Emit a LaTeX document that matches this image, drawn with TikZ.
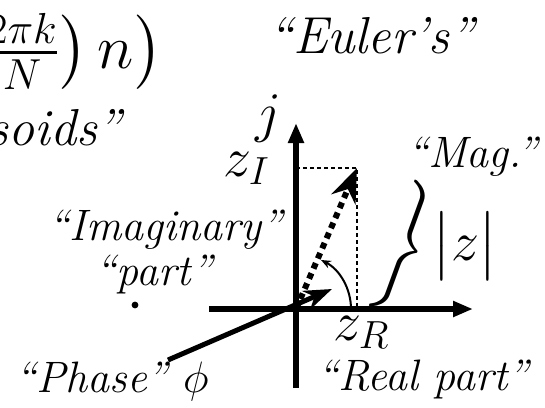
\RequirePackage{fix-cm}
\documentclass[tikz,border=0pt]{standalone}
\usepackage{amsmath,amssymb}
\usetikzlibrary{arrows.meta}

\begin{document}
\begin{tikzpicture}[x=0.5pt, y=-0.5pt, axis/.style={line width=3.3pt, -{Triangle[length=10pt, width=7.5pt]}}, vec/.style={line width=3pt, dash pattern=on 3pt off 2.5pt, -{Stealth[length=17pt, width=13pt]}}, phasearr/.style={line width=2.5pt, -{Stealth[length=14pt, width=10pt]}}, anglearr/.style={line width=1pt, -{Stealth[length=5pt, width=4pt]}}, dashline/.style={line width=0.75pt, dash pattern=on 2pt off 1.5pt}, lbl/.style={inner sep=0pt, font=\fontsize{22}{25}\selectfont\itshape}, mathlbl/.style={inner sep=0pt, font=\fontsize{28}{32}\selectfont}, big/.style={inner sep=0pt, font=\fontsize{26}{30}\selectfont}]
\useasboundingbox (0,0) rectangle (545,407);
\clip (0,0) rectangle (545,407);
\coordinate (O) at (296,309);
\coordinate (P) at (357,168);
\coordinate (ytop) at (296,123);
\coordinate (ybot) at (296,388);
\coordinate (xleft) at (209,309);
\coordinate (xright) at (473,309);
\coordinate (phstart) at (168,360);
\coordinate (phend) at (332,289);
\coordinate (arcstart) at (351,309);
\node[inner sep=0pt, font=\fontsize{31}{35}\selectfont, anchor=base east] (formula) at (163,68) {$\tfrac{2\pi k}{N}\bigr)\,n\bigr)$};
\node[big, anchor=base east] (sinus) at (122,145) {\itshape soids''};
\node[big, anchor=base west] (euler) at (268,53) {\itshape ``Euler's''};
\node[mathlbl, anchor=base] (jlbl) at (268,131) {$j$};
\node[mathlbl, anchor=base west] (zim) at (223,176) {$z_I$};
\node[mathlbl, anchor=base west] (zre) at (333,340) {$z_R$};
\node[mathlbl, anchor=base] (mag) at (465,260) {$\bigl|z\bigr|$};
\node[mathlbl, rotate=-20] (brace) at (404,247) {$\left.\vcenter to 58pt{}\right\}$};
\node[lbl, anchor=base east] (imag) at (283,240) {``Imaginary''};
\node[lbl, anchor=base] (impart) at (154,285) {``part''};
\node[lbl, anchor=base west] (phase) at (15,392) {``Phase'' $\phi$};
\node[lbl, anchor=base west] (repart) at (317,390) {``Real part''};
\node[lbl, anchor=base west] (maglbl) at (407,167) {``Mag.''};
\node[circle, fill, inner sep=1.2pt] (dot) at (135,305) {};
\draw[dashline] (O |- P) -- (P) -- (P |- O);
\draw[axis] (xleft) -- (xright);
\draw[axis] (ybot) -- (ytop);
\draw[vec] (O) -- (P);
\draw[anglearr] (arcstart) arc[start angle=0, end angle=-63, radius=55];
\draw[phasearr] (phstart) -- (phend);
\end{tikzpicture}
\end{document}
